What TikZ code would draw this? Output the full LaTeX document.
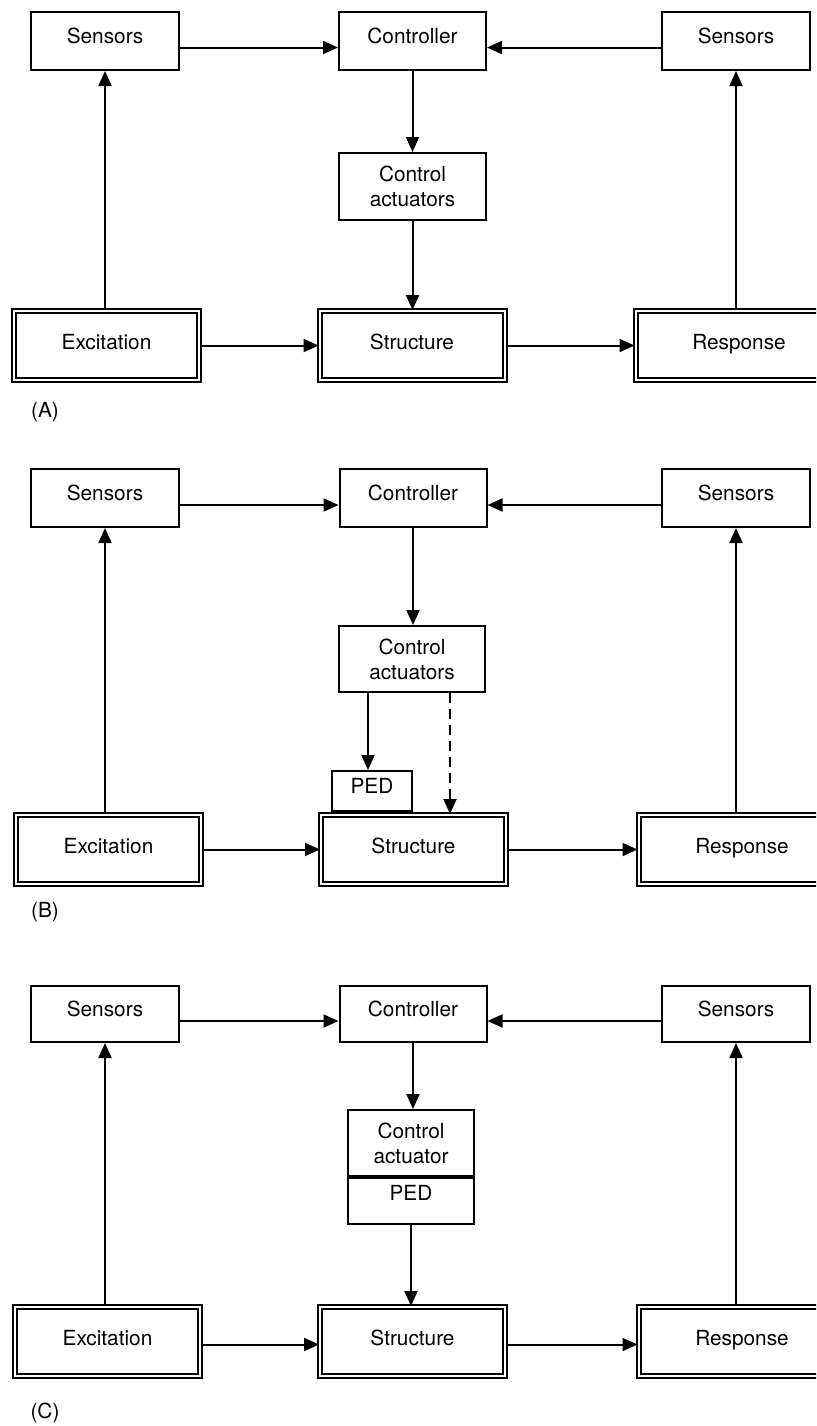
\documentclass[tikz,border=0pt]{standalone}
\usepackage{fontspec}
\setmainfont{TeX Gyre Heros}
\usetikzlibrary{arrows.meta}

\begin{document}
\begin{tikzpicture}[x=.5pt, y=-.5pt, line width=1pt,
        font=\fontsize{10.4}{12.5}\selectfont,
        >={Triangle[length=7.5pt,width=6.5pt]},
        blk/.style={draw, minimum width=74pt, minimum height=29pt, inner sep=0pt, text height=7.5pt, text depth=5pt},
        act/.style={draw, minimum width=73.5pt, minimum height=33.5pt, inner sep=0pt, align=center},
        dbl/.style={draw, double, double distance=1pt, minimum width=92.5pt, minimum height=34.5pt, inner sep=0pt, text height=7.5pt, text depth=3.5pt},
        ped/.style={draw, minimum width=40pt, minimum height=20pt, inner sep=0pt, text height=7.5pt, text depth=5pt}]
    \useasboundingbox (0,0) rectangle (816,1426);
    \begin{scope}
    \clip (0,0) rectangle (816,1426);

    % (A)
    \node[blk] (sensA) at (105,41) {Sensors};
    \node[blk, minimum width=73.5pt] (ctrlA) at (412.5,41) {Controller};
    \node[blk] (sensAr) at (736,41) {Sensors};
    \node[act] (actA) at (412.5,186.5) {Control\\actuators};
    \node[dbl] (excA) at (106.5,345.5) {Excitation};
    \node[dbl] (strA) at (412,345.5) {Structure};
    \node[dbl, minimum width=103.5pt] (resA) at (739,345.5) {Response};
    \node (labA) at (45,412) {(A)};
    \draw[->] ([yshift=-3.25pt]sensA.east) -- ([yshift=-3.25pt]ctrlA.west);
    \draw[->] ([yshift=-3.25pt]sensAr.west) -- ([yshift=-3.25pt]ctrlA.east);
    \draw[->] (ctrlA.south) -- (actA.north);
    \draw[->] (actA.south) -- (actA.south |- strA.north);
    \draw[->] (excA.east) -- (strA.west);
    \draw[->] (strA.east) -- (resA.west);
    \draw[->] (excA.north -| sensA) -- (sensA.south);
    \draw[->] (resA.north -| sensAr) -- (sensAr.south);

    % (B)
    \node[blk] (sensB) at (105,498) {Sensors};
    \node[blk, minimum width=73.5pt] (ctrlB) at (413,498) {Controller};
    \node[blk] (sensBr) at (736,498) {Sensors};
    \node[act, minimum width=73pt, minimum height=33pt] (actB) at (412,659) {Control\\actuators};
    \node[ped] (pedB) at (372,791) {PED};
    \node[dbl] (excB) at (108.5,849.5) {Excitation};
    \node[dbl] (strB) at (413.5,849.5) {Structure};
    \node[dbl, minimum width=103.5pt] (resB) at (742,849.5) {Response};
    \node (labB) at (45,912) {(B)};
    \draw[->] ([yshift=-3.5pt]sensB.east) -- ([yshift=-3.5pt]ctrlB.west);
    \draw[->] ([yshift=-3.5pt]sensBr.west) -- ([yshift=-3.5pt]ctrlB.east);
    \draw[->] (ctrlB.south) -- (ctrlB.south |- actB.north);
    \draw[->] ([xshift=-2pt]pedB.north |- actB.south) -- ([xshift=-2pt]pedB.north);
    \draw[->, dash pattern=on 5pt off 3pt] ([xshift=19pt]actB.south) -- ([xshift=19pt]actB.south |- strB.north);
    \draw[->] (excB.east) -- (strB.west);
    \draw[->] (strB.east) -- (resB.west);
    \draw[->] (excB.north -| sensB) -- (sensB.south);
    \draw[->] (resB.north -| sensBr) -- (sensBr.south);

    % (C)
    \node[blk, minimum height=28pt] (sensC) at (105,1014) {Sensors};
    \node[blk, minimum width=73.5pt, minimum height=28pt] (ctrlC) at (413,1014) {Controller};
    \node[blk, minimum height=28pt] (sensCr) at (736,1014) {Sensors};
    \node[act, minimum width=63pt, minimum height=33pt] (actC) at (411,1143) {Control\\actuator};
    \node[draw, anchor=north, minimum width=63pt, minimum height=23pt, inner sep=0pt, text height=7.5pt, text depth=8pt] (pedC) at (actC.south) {PED};
    \node[dbl] (excC) at (107.5,1341.5) {Excitation};
    \node[dbl] (strC) at (412.5,1341.5) {Structure};
    \node[dbl, minimum width=103.5pt] (resC) at (742,1341.5) {Response};
    \node (labC) at (45,1413) {(C)};
    \draw[->] ([yshift=-3.5pt]sensC.east) -- ([yshift=-3.5pt]ctrlC.west);
    \draw[->] ([yshift=-3.5pt]sensCr.west) -- ([yshift=-3.5pt]ctrlC.east);
    \draw[->] (ctrlC.south) -- (ctrlC.south |- actC.north);
    \draw[->] (pedC.south) -- (pedC.south |- strC.north);
    \draw[->] ([yshift=-1.5pt]excC.east) -- ([yshift=-1.5pt]strC.west);
    \draw[->] ([yshift=-1.5pt]strC.east) -- ([yshift=-1.5pt]resC.west);
    \draw[->] (excC.north -| sensC) -- (sensC.south);
    \draw[->] (resC.north -| sensCr) -- (sensCr.south);
    \end{scope}
\end{tikzpicture}
\end{document}
